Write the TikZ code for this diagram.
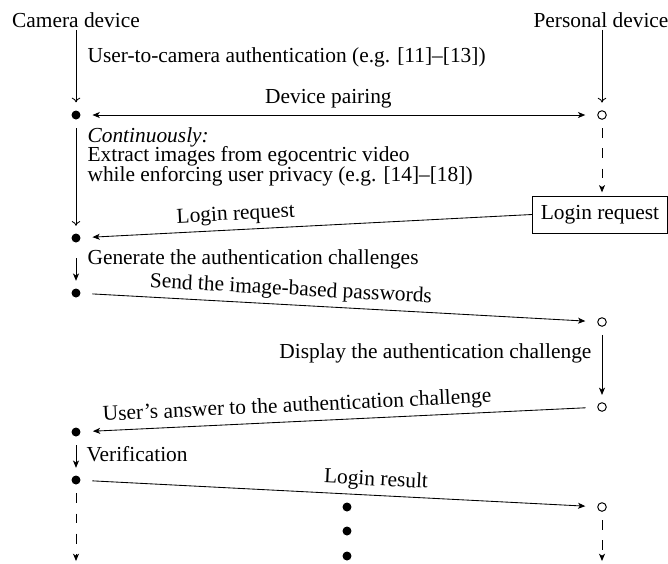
\documentclass[tikz,border=0pt]{standalone}
\usepackage{fontspec}
\setmainfont{Liberation Serif}
\usetikzlibrary{arrows.meta}
\begin{document}
\begin{tikzpicture}[x=0.4673pt, y=-0.4673pt,
  every node/.style={font=\fontsize{10}{9.2}\selectfont},
  lbl/.style={inner sep=1pt},
  fdot/.style={circle, fill=black, inner sep=0pt, minimum size=4.2pt},
  hdot/.style={circle, draw=black, inner sep=0pt, minimum size=4pt, line width=0.45pt},
  tip/.style={-{Stealth[length=3.4pt,width=2.8pt,inset=0.9pt]}},
  tiptwo/.style={{Stealth[length=3.4pt,width=2.8pt,inset=0.9pt]}-{Stealth[length=3.4pt,width=2.8pt,inset=0.9pt]}},
  opentip/.style={-{To[length=2.2pt,width=4pt]}},
  vshort/.style={shorten <=3.8pt, shorten >=3.4pt},
  hshort/.style={shorten <=5.4pt, shorten >=5.6pt},
  dashline/.style={dash pattern=on 4.6pt off 4.8pt},
  msg/.style={sloped, above, inner sep=2.2pt}
]
\useasboundingbox (0,0) rectangle (668,563);

% headers
\node[lbl, anchor=base] (cam) at (76,27) {Camera device};
\node[lbl, anchor=base] (pers) at (601,27) {Personal device};

% lifeline points
\node[fdot] (d0) at (76,115) {};
\node[hdot] (q0) at (602,115) {};
\node[fdot] (d1) at (76,238) {};
\node[draw, inner xsep=4pt, inner ysep=0pt, minimum height=17.3pt] (box) at (600,214.5) {Login request};
\node[fdot] (d2) at (76,293) {};
\node[hdot] (q1) at (602,322) {};
\node[hdot] (q2) at (602,407) {};
\node[fdot] (d3) at (76,432) {};
\node[fdot] (d4) at (76,480) {};
\node[hdot] (q3) at (602,507) {};
\node[fdot] (e1) at (347,507) {};
\node[fdot] (e2) at (347,531) {};
\node[fdot] (e3) at (347,556) {};
\coordinate (endl) at (76,561);
\coordinate (endr) at (602,561);

% labels
\node[lbl, anchor=base west] (t1) at (85,62) {User-to-camera authentication (e.g. [11]--[13])};
\node[lbl, anchor=base west] (t2) at (85,142) {\textit{Continuously:}};
\node[lbl, anchor=base west] (t3) at (85,161) {Extract images from egocentric video};
\node[lbl, anchor=base west] (t4) at (85,181) {while enforcing user privacy (e.g. [14]--[18])};
\node[lbl, anchor=base west] (t5) at (85,264) {Generate the authentication challenges};
\node[lbl, anchor=base east] (t6) at (594,358) {Display the authentication challenge};
\node[lbl, anchor=base west] (t7) at (84,461) {Verification};

% connectors
\draw[opentip, shorten >=3.6pt] (cam.south) -- (d0);
\draw[opentip, shorten >=3.6pt] (pers.south -| q0) -- (q0);
\draw[tiptwo, hshort] (d0) -- node[above, inner sep=3pt, pos=0.5, xshift=-5pt] (pl) {Device pairing} (q0);
\draw[opentip, vshort] (d0) -- (d1);
\draw[tip, dashline, shorten <=4pt, shorten >=1.5pt] (q0) -- (box.north -| q0);
\draw[tip, shorten >=5.4pt] (box.west) -- node[msg, pos=0.655] (m1) {Login request} (d1);
\draw[tip, vshort] (d2 |- d1) ++(0,12) -- (d2);
\draw[tip, hshort] (d2) -- node[msg, pos=0.405] (m2) {Send the image-based passwords} (q1);
\draw[tip, vshort] (q1) -- (q2);
\draw[tip, hshort] (q2) -- node[msg, pos=0.58] (m3) {User's answer to the authentication challenge} (d3);
\draw[tip, vshort] (d3) -- (d4);
\draw[tip, hshort] (d4) -- node[msg, pos=0.57] (m4) {Login result} (q3);
\draw[tip, dashline, shorten <=4pt] (d4) -- (endl);
\draw[tip, dashline, shorten <=4pt] (q3) -- (endr);
\end{tikzpicture}
\end{document}
